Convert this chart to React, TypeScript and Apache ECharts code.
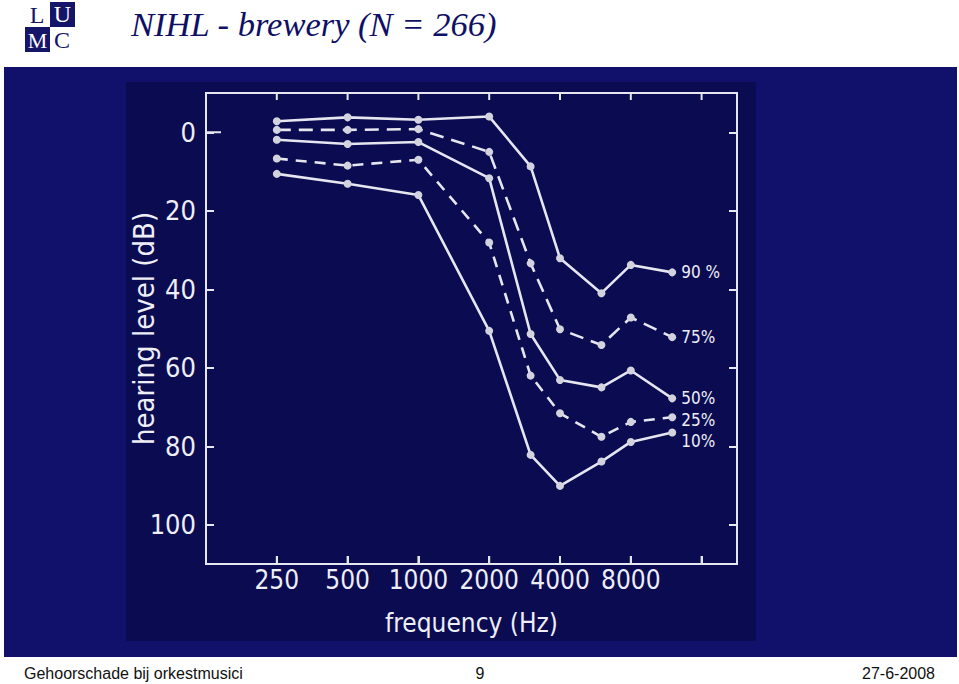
import React, { useEffect, useRef } from "react";
import * as echarts from "echarts";

// Frequencies (Hz) of the audiogram points
const frequencies = [250, 500, 1000, 2000, 3000, 4000, 6000, 8000, 12000];
// Tick labels of the frequency axis (octaves from 250 Hz)
const freqTickLabels = ["250", "500", "1000", "2000", "4000", "8000"];
// Tick positions on the frequency axis (octaves above 250 Hz)
const freqTickOctaves = [0, 1, 2, 3, 4, 5, 6];
// Tick labels of the hearing level axis
const levelTicks = [0, 20, 40, 60, 80, 100];

// Percentile curves, hearing level in dB
const p90 = [-2.8, -3.8, -3.2, -4.0, 8.7, 32.1, 41.0, 33.8, 35.7];
const p75 = [-0.6, -0.6, -0.8, 5.0, 33.4, 50.2, 54.2, 47.2, 52.2];
const p50 = [1.9, 3.0, 2.5, 11.7, 51.4, 63.1, 65.0, 60.7, 67.8];
const p25 = [6.7, 8.5, 7.0, 28.1, 62.0, 71.6, 77.6, 73.8, 72.6];
const p10 = [10.6, 13.1, 16.0, 50.6, 82.2, 90.1, 83.9, 78.9, 76.5];

const seriesNames = ["90 %", "75%", "50%", "25%", "10%"];
const seriesValues = [p90, p75, p50, p25, p10];
const seriesDashed = [false, true, false, true, false];

export default function App() {
  const ref = useRef<HTMLDivElement>(null);

  useEffect(() => {
    document.body.style.margin = "0";
    if (!ref.current) return;
    const chart = echarts.init(ref.current, undefined, { renderer: "svg" });

    const narrow = "'Liberation Sans Narrow', 'DejaVu Sans Condensed', 'DejaVu Sans', sans-serif";
    const lineColor = "#e6e6f0";
    const textColor = "#eeeef6";
    const toOct = (f: number) => Math.log2(f / 250);
    const labelOffsets = [[0, 0], [0, 0], [0, 0], [0, 3], [0, 8]];
    const yMin = -10;
    const yMax = 110;

    const series = seriesValues.map((vals, i) => ({
      type: "line",
      name: seriesNames[i],
      xAxisIndex: 0,
      yAxisIndex: 0,
      data: vals.map((v, k) => [toOct(frequencies[k]), v]),
      symbol: "circle",
      symbolSize: 8,
      showAllSymbol: true,
      itemStyle: { color: "#d2d3de", borderWidth: 0 },
      lineStyle: {
        color: lineColor,
        width: 2.6,
        type: seriesDashed[i] ? (i === 1 ? [14, 8] : [11, 8]) : "solid",
      },
      endLabel: {
        show: true,
        formatter: seriesNames[i],
        color: textColor,
        fontSize: 17,
        lineHeight: 16,
        fontFamily: narrow,
        distance: 9,
        offset: labelOffsets[i],
      },
    }));

    chart.setOption({
      animation: false,
      backgroundColor: "transparent",
      grid: {
        left: 206,
        top: 93,
        right: 222,
        bottom: 120,
        show: true,
        borderColor: lineColor,
        borderWidth: 2,
      },
      xAxis: [
        {
          type: "value",
          position: "bottom",
          min: -1,
          max: 6.5,
          interval: 1,
          axisLine: { show: true, onZero: false, lineStyle: { color: lineColor, width: 2 } },
          splitLine: { show: false },
          axisTick: { show: true, inside: true, length: 8, lineStyle: { color: lineColor, width: 2 } },
          axisLabel: {
            color: textColor,
            fontSize: 26,
            fontFamily: narrow,
            margin: 3,
            formatter: (v: number) => freqTickLabels[Math.round(v)] ?? "",
          },
          name: "frequency (Hz)",
          nameLocation: "middle",
          nameGap: 46,
          nameTextStyle: { color: textColor, fontSize: 26, fontFamily: narrow },
        },
      ],
      yAxis: [
        {
          type: "value",
          position: "left",
          inverse: true,
          min: yMin,
          max: yMax,
          interval: 10,
          axisLine: { show: true, onZero: false, lineStyle: { color: lineColor, width: 2 } },
          splitLine: { show: false },
          axisTick: { show: true, inside: true, length: 8, lineStyle: { color: lineColor, width: 2 }, customValues: levelTicks },
          axisLabel: {
            color: textColor,
            fontSize: 27,
            fontFamily: narrow,
            margin: 10,
            customValues: levelTicks,
          },
          name: "hearing level (dB)",
          nameLocation: "middle",
          nameGap: 48,
          nameRotate: 90,
          nameMoveOverlap: false,
          nameTextStyle: { color: textColor, fontSize: 29, fontFamily: narrow },
        },
        {
          type: "value",
          position: "right",
          inverse: true,
          min: yMin,
          max: yMax,
          interval: 10,
          axisLine: { show: true, onZero: false, lineStyle: { color: lineColor, width: 2 } },
          splitLine: { show: false },
          axisLabel: { show: false },
          axisTick: { show: true, inside: true, length: 8, lineStyle: { color: lineColor, width: 2 }, customValues: levelTicks },
        },
      ],
      series,
    });

    // frequency ticks on the top and bottom frame edges, placed through the axis scale
    const yTop = chart.convertToPixel({ yAxisIndex: 0 }, yMin) as number;
    const yBottom = chart.convertToPixel({ yAxisIndex: 0 }, yMax) as number;
    const y0 = chart.convertToPixel({ yAxisIndex: 0 }, 0) as number;
    const xLeft = chart.convertToPixel({ xAxisIndex: 0 }, -1) as number;
    const tickEls: any[] = [];
    freqTickOctaves.forEach((o) => {
      const x = chart.convertToPixel({ xAxisIndex: 0 }, o) as number;
      tickEls.push({ type: "line", z: 100, shape: { x1: x, y1: yBottom, x2: x, y2: yBottom - 8 }, style: { stroke: lineColor, lineWidth: 2 } });
      tickEls.push({ type: "line", z: 100, shape: { x1: x, y1: yTop, x2: x, y2: yTop + 7 }, style: { stroke: lineColor, lineWidth: 2 } });
    });
    // longer tick at 0 dB on the left
    tickEls.push({ type: "line", z: 100, shape: { x1: xLeft, y1: y0, x2: xLeft + 15, y2: y0 }, style: { stroke: lineColor, lineWidth: 2 } });

    chart.setOption({
      graphic: {
        elements: [
          ...tickEls,
          // logo
          { type: "rect", shape: { x: 50, y: 2, width: 25, height: 25 }, style: { fill: "#15156a" } },
          { type: "rect", shape: { x: 25, y: 27, width: 25, height: 25 }, style: { fill: "#15156a" } },
          { type: "text", style: { text: "L", x: 37, y: 15, fill: "#15156a", font: "24px 'Liberation Serif', serif", align: "center", verticalAlign: "middle" } },
          { type: "text", style: { text: "U", x: 62.5, y: 14, fill: "#ffffff", font: "24px 'Liberation Serif', serif", align: "center", verticalAlign: "middle" } },
          { type: "text", style: { text: "M", x: 37.5, y: 40, fill: "#ffffff", font: "22px 'Liberation Serif', serif", align: "center", verticalAlign: "middle" } },
          { type: "text", style: { text: "C", x: 62, y: 40, fill: "#15156a", font: "24px 'Liberation Serif', serif", align: "center", verticalAlign: "middle" } },
          // title
          { type: "text", style: { text: "NIHL - brewery (N = 266)", x: 131, y: 24, fill: "#0f0f66", font: "italic 34.5px 'Liberation Serif', 'Times New Roman', serif", align: "left", verticalAlign: "middle" } },
          // footer
          { type: "text", style: { text: "Gehoorschade bij orkestmusici", x: 24, y: 673, fill: "#111111", font: "16px 'Liberation Sans', Arial, sans-serif", align: "left", verticalAlign: "middle" } },
          { type: "text", style: { text: "9", x: 480, y: 673, fill: "#111111", font: "16px 'Liberation Sans', Arial, sans-serif", align: "center", verticalAlign: "middle" } },
          { type: "text", style: { text: "27-6-2008", x: 935, y: 673, fill: "#111111", font: "16px 'Liberation Sans', Arial, sans-serif", align: "right", verticalAlign: "middle" } },
        ],
      },
    });

    return () => chart.dispose();
  }, []);

  return (
    <div style={{ position: "relative", width: 959, height: 684, background: "#ffffff", overflow: "hidden" }}>
      <div style={{ position: "absolute", left: 4, top: 67, width: 953, height: 590, background: "#11116b" }} />
      <div style={{ position: "absolute", left: 126, top: 82, width: 630, height: 559, background: "#0a0b50" }} />
      <div ref={ref} style={{ position: "absolute", left: 0, top: 0, width: 959, height: 684 }} />
    </div>
  );
}
